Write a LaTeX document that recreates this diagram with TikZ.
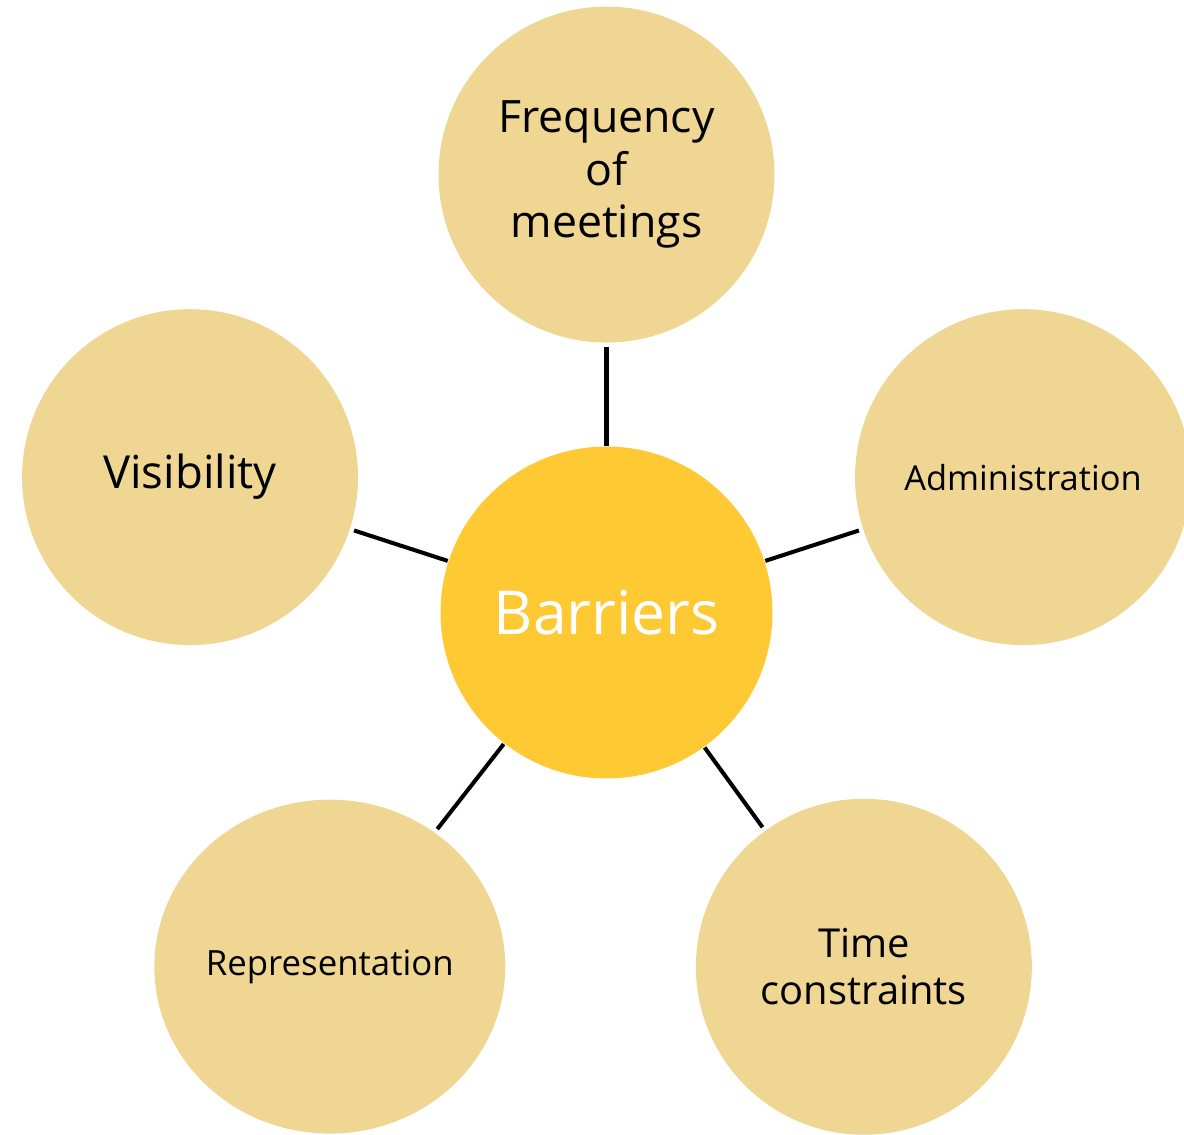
\documentclass[tikz,border=0pt]{standalone}
\usepackage{fontspec}
\setmainfont{Open Sans}
\usetikzlibrary{shapes.geometric}

\definecolor{barriergold}{HTML}{FFC933}
\definecolor{barriersand}{HTML}{F0D693}

\begin{document}
\begin{tikzpicture}[
        x=0.02cm, y=0.02cm,
        barrier/.style={circle, fill=barriersand, text=black, inner sep=0pt, outer sep=0pt,
            minimum size=6.72cm, align=center},
        root barrier/.style={circle, fill=barriergold, text=white, inner sep=0pt, outer sep=0pt,
            minimum size=6.64cm, font=\fontsize{34.5}{41}\selectfont},
        level 1/.style={level distance=8.76cm},
        edge from parent/.style={draw=black, line width=2.3pt, shorten <=0.02cm, shorten >=0.09cm}]

    \useasboundingbox (0,0) rectangle (1184,1135);

    \node [root barrier] (barriers) at (606.5,522.5) {Barriers}
        child [grow=90] { node [barrier, font=\fontsize{25.4}{30}\selectfont] (frequency) {Frequency\\of\\meetings} }
        child [grow=18] { node [barrier, font=\fontsize{19.6}{23}\selectfont] (administration) {Administration} }
        child [grow=-54] { node [barrier, font=\fontsize{22.7}{26.5}\selectfont] (time) {Time\\constraints} }
        child [grow=232.3, level distance=8.99cm] { node [barrier, ellipse, minimum width=7.02cm, minimum height=6.68cm,
            font=\fontsize{19.8}{23}\selectfont] (representation) {Representation} }
        child [grow=162] { node [barrier, font=\fontsize{25.9}{30}\selectfont] (visibility) {Visibility} };
\end{tikzpicture}
\end{document}
